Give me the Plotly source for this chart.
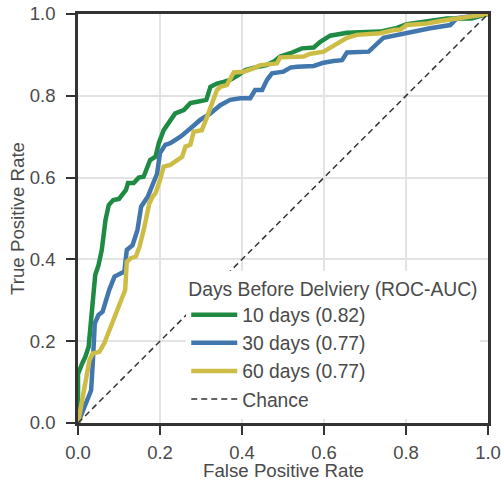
import plotly.graph_objects as go

# ROC curve points
fpr_10 = [0, 0, 0.01, 0.018, 0.026, 0.038, 0.042, 0.05, 0.058, 0.067, 0.075, 0.086, 0.10, 0.117, 0.122,
          0.136, 0.148, 0.16, 0.176, 0.189, 0.197, 0.209, 0.225, 0.237, 0.258, 0.274, 0.294, 0.313,
          0.323, 0.339, 0.355, 0.371, 0.392, 0.408, 0.43, 0.46, 0.48, 0.493, 0.518, 0.546, 0.575,
          0.591, 0.615, 0.656, 0.737, 0.778, 0.802, 0.835, 0.867, 0.9, 0.96, 1.0]
tpr_10 = [0, 0.12, 0.145, 0.162, 0.187, 0.30, 0.362, 0.386, 0.423, 0.496, 0.533, 0.545, 0.548, 0.57, 0.587,
          0.587, 0.60, 0.602, 0.643, 0.651, 0.684, 0.716, 0.737, 0.757, 0.765, 0.782, 0.786, 0.79,
          0.822, 0.83, 0.834, 0.839, 0.851, 0.863, 0.869, 0.875, 0.885, 0.896, 0.904, 0.916, 0.918,
          0.932, 0.947, 0.954, 0.957, 0.966, 0.975, 0.98, 0.985, 0.989, 0.989, 1.0]

fpr_30 = [0, 0.019, 0.032, 0.036, 0.041, 0.05, 0.06, 0.076, 0.089, 0.105, 0.113, 0.119, 0.133, 0.145,
          0.154, 0.17, 0.18, 0.193, 0.2, 0.213, 0.225, 0.25, 0.274, 0.298, 0.323, 0.347, 0.371, 0.396,
          0.42, 0.432, 0.449, 0.461, 0.473, 0.501, 0.518, 0.534, 0.575, 0.599, 0.623, 0.644, 0.656,
          0.709, 0.745, 0.778, 0.802, 0.827, 0.859, 0.908, 0.924, 1.0]
tpr_30 = [0, 0.049, 0.08, 0.146, 0.244, 0.264, 0.272, 0.325, 0.358, 0.366, 0.37, 0.423, 0.435, 0.472,
          0.529, 0.553, 0.578, 0.61, 0.66, 0.68, 0.684, 0.70, 0.72, 0.741, 0.757, 0.777, 0.79, 0.794,
          0.794, 0.814, 0.814, 0.839, 0.855, 0.859, 0.869, 0.871, 0.873, 0.881, 0.885, 0.887, 0.906,
          0.908, 0.942, 0.949, 0.953, 0.957, 0.965, 0.973, 0.99, 1.0]

fpr_60 = [0, 0.015, 0.028, 0.036, 0.052, 0.064, 0.076, 0.093, 0.109, 0.115, 0.119, 0.129, 0.141, 0.15,
          0.162, 0.174, 0.182, 0.189, 0.2, 0.209, 0.225, 0.241, 0.254, 0.262, 0.274, 0.282, 0.302,
          0.315, 0.327, 0.339, 0.347, 0.363, 0.38, 0.404, 0.428, 0.445, 0.485, 0.493, 0.55, 0.567,
          0.599, 0.615, 0.64, 0.656, 0.68, 0.737, 0.77, 0.786, 0.802, 0.851, 0.884, 0.924, 1.0]
tpr_60 = [0, 0.08, 0.154, 0.17, 0.174, 0.195, 0.227, 0.268, 0.309, 0.325, 0.394, 0.403, 0.407, 0.431,
          0.48, 0.537, 0.553, 0.562, 0.594, 0.627, 0.631, 0.643, 0.651, 0.676, 0.68, 0.712, 0.716,
          0.749, 0.782, 0.814, 0.822, 0.826, 0.857, 0.859, 0.867, 0.875, 0.879, 0.894, 0.896, 0.903,
          0.908, 0.918, 0.932, 0.942, 0.949, 0.953, 0.961, 0.962, 0.973, 0.977, 0.983, 0.989, 1.0]

chance_x = [0, 1]
chance_y = [0, 1]

names = ["10 days (0.82)", "30 days (0.77)", "60 days (0.77)"]
colors = ["#1e8a44", "#4177ad", "#cdbd47"]
tick_vals = [0, 0.2, 0.4, 0.6, 0.8, 1.0]
tick_text = ["0.0", "0.2", "0.4", "0.6", "0.8", "1.0"]

FONT = "Liberation Sans, Arial, sans-serif"
TXT = "#4a4a4a"

fig = go.Figure()
for fx, ty, nm, c in zip([fpr_10, fpr_30, fpr_60], [tpr_10, tpr_30, tpr_60], names, colors):
    fig.add_trace(go.Scatter(x=fx, y=ty, mode="lines", name=nm,
                             line=dict(color=c, width=4.5)))
fig.add_trace(go.Scatter(x=chance_x, y=chance_y, mode="lines", name="Chance",
                         line=dict(color="#333333", width=1.5, dash="6px,4px")))

axis_common = dict(
    range=[0, 1], tickvals=tick_vals, ticktext=tick_text, automargin=False,
    showline=True, mirror=True, linecolor="#333333", linewidth=2.5,
    ticks="outside", ticklen=9, tickwidth=2.2, tickcolor="#333333",
    showgrid=True, gridcolor="#e3e3e3", gridwidth=1.6, zeroline=False,
    tickfont=dict(family=FONT, size=18.5, color=TXT),
)

fig.update_layout(
    width=501, height=482,
    margin=dict(l=78, r=13, t=14, b=59, autoexpand=False),
    paper_bgcolor="white", plot_bgcolor="white",
    font=dict(family=FONT, size=18.7, color=TXT),
    xaxis=dict(**axis_common, ticklabelstandoff=2),
    yaxis=dict(**axis_common, ticklabelstandoff=7,
               title=dict(text="True Positive Rate", standoff=1,
                          font=dict(family=FONT, size=18.7, color=TXT))),
    legend=dict(
        x=0.264, y=0.3726, xanchor="left", yanchor="top",
        bgcolor="white", borderwidth=0,
        title=dict(text="Days Before Delviery (ROC-AUC)", font=dict(family=FONT, size=19.3, color=TXT)),
        font=dict(family=FONT, size=19.3, color=TXT),
        itemwidth=46,
    ),
    annotations=[dict(text="False Positive Rate", xref="paper", yref="paper",
                      x=0.5, y=-0.115, xanchor="center", yanchor="middle",
                      showarrow=False, font=dict(family=FONT, size=18.7, color=TXT))],
    showlegend=True,
)

fig.write_html("out.html", config={"displayModeBar": False},
               post_script="document.body.style.margin='0';document.body.style.padding='0';")
